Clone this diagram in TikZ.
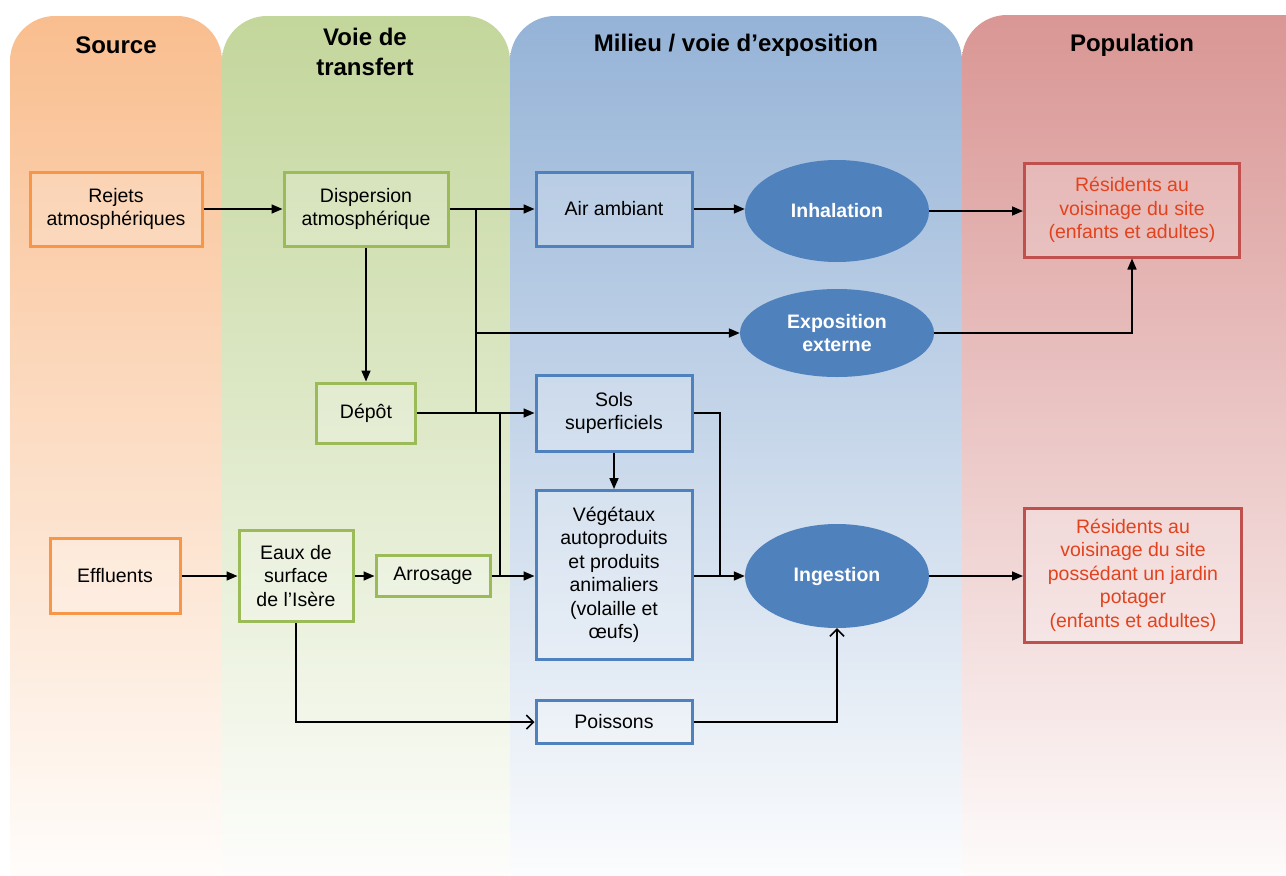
\documentclass[tikz,border=0pt]{standalone}
\usepackage{fontspec}
\setmainfont{Liberation Sans}
\usetikzlibrary{arrows.meta,shapes.geometric}
\definecolor{orgB}{HTML}{F79646}
\definecolor{grnB}{HTML}{9BBB59}
\definecolor{bluB}{HTML}{4F81BD}
\definecolor{redB}{HTML}{C0504D}
\definecolor{redT}{HTML}{E2431E}
\definecolor{orgP}{HTML}{F9BE8F}
\definecolor{grnP}{HTML}{C3D69B}
\definecolor{bluP}{HTML}{95B3D7}
\definecolor{redP}{HTML}{D99694}
\begin{document}
\begin{tikzpicture}[x=1pt,y=-1pt,
  panel/.style={rounded corners=45pt, bottom color=white},
  head/.style={font=\fontsize{24}{30}\selectfont\bfseries, align=center},
  box/.style={draw, line width=3pt, fill=white, fill opacity=0.2, text opacity=1,
              align=center, inner sep=2pt, font=\fontsize{19.5}{23.5}\selectfont},
  obox/.style={box, draw=orgB},
  gbox/.style={box, draw=grnB},
  bbox/.style={box, draw=bluB},
  rbox/.style={box, draw=redB, text=redT},
  ell/.style={ellipse, fill=bluB, draw=none, text=white, inner sep=0pt, align=center,
              font=\fontsize{19.5}{23.5}\selectfont\bfseries},
  arr/.style={line width=1.6pt, -{Triangle[length=11pt,width=9pt]}},
  oarr/.style={line width=1.6pt, -{Straight Barb[length=7pt,width=14pt]}},
  ln/.style={line width=1.6pt}
]
\useasboundingbox (0,0) rectangle (1286,876);
\fill[white] (0,0) rectangle (1286,876);
% panels
\path[panel, top color=orgP] (10,16) rectangle (222,910);
\path[panel, top color=grnP] (222,16) rectangle (510,910);
\path[panel, top color=bluP] (510,16) rectangle (962,910);
\path[panel, top color=redP] (962,15) rectangle (1330,910);
% headings
\node[head] (hsrc) at (116,45) {Source};
\node[head] (hvoie) at (365,52) {Voie de\\transfert};
\node[head] (hmil) at (736,45) {Milieu / voie d’exposition};
\node[head] (hpop) at (1132,45) {Population};
% nodes
\node[obox, minimum width=172pt, minimum height=74pt] (rej) at (116,209) {Rejets\\atmosphériques};
\node[gbox, minimum width=164pt, minimum height=74pt] (disp) at (366,209) {Dispersion\\atmosphérique};
\node[gbox, minimum width=99pt, minimum height=60pt] (depot) at (366,413) {Dépôt};
\node[obox, minimum width=130pt, minimum height=75pt] (eff) at (115,576) {Effluents};
\node[gbox, minimum width=114pt, minimum height=91pt] (eaux) at (296,576) {Eaux de\\surface\\de l’Isère};
\node[gbox, minimum width=114pt, minimum height=41pt] (arros) at (433,576) {Arrosage};
\node[bbox, minimum width=156pt, minimum height=74pt] (air) at (614,209) {Air ambiant};
\node[bbox, minimum width=156pt, minimum height=76pt] (sols) at (614,413) {Sols\\superficiels};
\node[bbox, minimum width=156pt, minimum height=169pt] (veg) at (614,575) {Végétaux\\autoproduits\\et produits\\animaliers\\(volaille et\\œufs)};
\node[bbox, minimum width=156pt, minimum height=43pt] (pois) at (614,722) {Poissons};
\node[ell, minimum width=184pt, minimum height=102pt] (inh) at (837,211) {Inhalation};
\node[ell, minimum width=194pt, minimum height=88pt] (expo) at (837,333) {Exposition\\externe};
\node[ell, minimum width=184pt, minimum height=104pt] (ing) at (837,576) {Ingestion};
\node[rbox, minimum width=215pt, minimum height=94pt] (res1) at (1132,210) {Résidents au\\voisinage du site\\(enfants et adultes)};
\node[rbox, minimum width=217pt, minimum height=134pt] (res2) at (1133,575) {Résidents au\\voisinage du site\\possédant un jardin\\potager\\(enfants et adultes)};
% junction coordinates
\coordinate (ja) at (476,209);
\coordinate (jb) at (476,413);
\coordinate (jc) at (500,413);
\coordinate (jd) at (500,576);
\coordinate (je) at (720,413);
\coordinate (jf) at (720,576);
% connectors
\draw[arr] (rej.east) -- (disp.west);
\draw[arr] (disp.east) -- (air.west);
\draw[ln] (ja) -- (jb);
\draw[arr] (ja |- expo.west) -- (expo.west);
\draw[arr] (disp.south) -- (depot.north);
\draw[arr] (depot.east) -- (depot.east -| sols.west);
\draw[ln] (jc) -- (jd);
\draw[arr] (eff.east) -- (eaux.west);
\draw[arr] (eaux.east) -- (arros.west);
\draw[arr] (arros.east) -- (arros.east -| veg.west);
\draw[oarr] (eaux.south) |- (pois.west);
\draw[oarr] (pois.east) -| (ing.south);
\draw[ln] (sols.east) -- (je) -- (jf);
\draw[arr] (veg.east |- ing.west) -- (ing.west);
\draw[arr] (sols.south) -- (veg.north);
\draw[arr] (air.east) -- (air.east -| inh.west);
\draw[arr] (inh.east) -- (inh.east -| res1.west);
\draw[arr] (expo.east) -| (res1.south);
\draw[arr] (ing.east) -- (ing.east -| res2.west);
\end{tikzpicture}
\end{document}
